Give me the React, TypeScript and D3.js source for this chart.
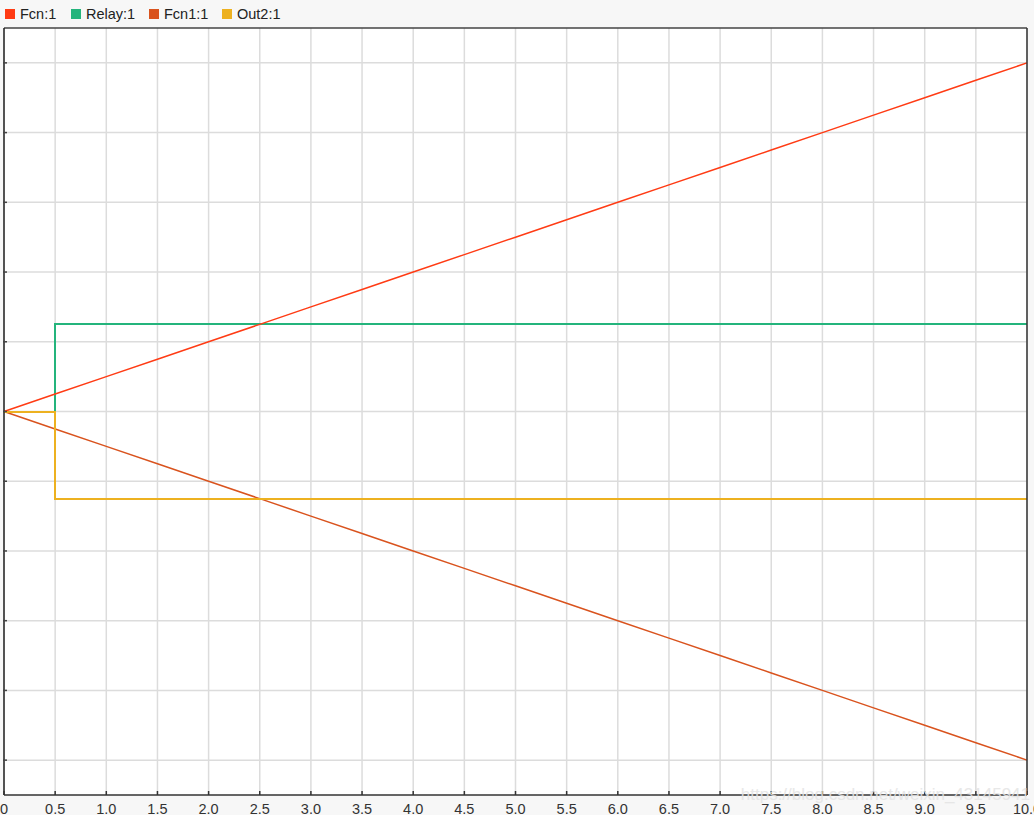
import React from "react";
import * as d3 from "d3";

const times = [0, 0.5, 1, 1.5, 2, 2.5, 3, 3.5, 4, 4.5, 5, 5.5, 6, 6.5, 7, 7.5, 8, 8.5, 9, 9.5, 10];
const fcnValues = [0, 0.25, 0.5, 0.75, 1.0, 1.25, 1.5, 1.75, 2.0, 2.25, 2.5, 2.75, 3.0, 3.25, 3.5, 3.75, 4.0, 4.25, 4.5, 4.75, 5.0];
const fcn1Values = [0, -0.25, -0.5, -0.75, -1.0, -1.25, -1.5, -1.75, -2.0, -2.25, -2.5, -2.75, -3.0, -3.25, -3.5, -3.75, -4.0, -4.25, -4.5, -4.75, -5.0];
const relayTimes = [0, 0.5, 0.5, 10];
const relayValues = [0, 0, 1.25, 1.25];
const out2Times = [0, 0.5, 0.5, 10];
const out2Values = [0, 0, -1.25, -1.25];
const xTicks = [0, 0.5, 1, 1.5, 2, 2.5, 3, 3.5, 4, 4.5, 5, 5.5, 6, 6.5, 7, 7.5, 8, 8.5, 9, 9.5, 10];
const yTicks = [-5, -4, -3, -2, -1, 0, 1, 2, 3, 4, 5];
const legendNames = ["Fcn:1", "Relay:1", "Fcn1:1", "Out2:1"];
const colors = ["#ff3b14", "#24b47c", "#d9531e", "#edb120"];

export default function App() {
  const W = 1034, H = 815;
  const left = 4, right = 1027, top = 28, bottom = 795;
  const x = d3.scaleLinear().domain([0, 10]).range([left, right]);
  const y = d3.scaleLinear().domain([-5.5, 5.5]).range([bottom, top]);
  const line = d3.line<[number, number]>().x(d => x(d[0])).y(d => y(d[1]));
  const series: [number, number][][] = [
    times.map((t, i) => [t, fcnValues[i]] as [number, number]),
    relayTimes.map((t, i) => [t, relayValues[i]] as [number, number]),
    times.map((t, i) => [t, fcn1Values[i]] as [number, number]),
    out2Times.map((t, i) => [t, out2Values[i]] as [number, number]),
  ];
  const drawOrder = [1, 0, 2, 3];
  const crisp = [false, true, false, true];
  const legendX = [5, 71, 149, 222];
  const fmt = (v: number) => (v === 0 ? "0" : v.toFixed(1));
  return (
    <svg width={W} height={H} style={{ position: "absolute", left: 0, top: 0, fontFamily: "Liberation Sans, Arial, sans-serif" }}>
      <rect x={0} y={0} width={W} height={H} fill="#f7f7f7" />
      <rect x={left} y={top} width={right - left} height={bottom - top} fill="#ffffff" />
      {legendNames.map((n, i) => (
        <g key={n}>
          <rect x={legendX[i]} y={9} width={10} height={10} fill={colors[i]} />
          <text x={legendX[i] + 15} y={19} fontSize={14.5} fill="#222">{n}</text>
        </g>
      ))}
      {xTicks.map(t => (
        <line key={"gx" + t} x1={x(t)} x2={x(t)} y1={top} y2={bottom} stroke="#dcdcdc" strokeWidth={1.5} />
      ))}
      {yTicks.map(v => (
        <line key={"gy" + v} x1={left} x2={right} y1={y(v)} y2={y(v)} stroke="#dcdcdc" strokeWidth={1.5} />
      ))}
      {drawOrder.map(i => (
        <path key={i} d={line(series[i]) || ""} fill="none" stroke={colors[i]} strokeWidth={crisp[i] ? 2 : 1.5}
          shapeRendering={crisp[i] ? "crispEdges" : "auto"} />
      ))}
      <line x1={left} x2={right} y1={top} y2={top} stroke="#444" strokeWidth={1.5} />
      <line x1={right} x2={right} y1={top} y2={bottom} stroke="#333" strokeWidth={1.5} />
      <line x1={left} x2={left} y1={top} y2={bottom} stroke="#222" strokeWidth={1.5} />
      <line x1={left} x2={right} y1={bottom} y2={bottom} stroke="#333" strokeWidth={1.5} />
      {yTicks.map(v => (
        <line key={"ty" + v} x1={left - 1} x2={left + 3} y1={y(v)} y2={y(v)} stroke="#444" strokeWidth={1.5} />
      ))}
      {xTicks.map(t => (
        <g key={"tx" + t}>
          <line x1={x(t)} x2={x(t)} y1={bottom} y2={bottom - 4} stroke="#333" strokeWidth={1.5} />
          <text x={x(t)} y={814} textAnchor="middle" fontSize={14.5} fill="#333">{fmt(t)}</text>
        </g>
      ))}
      <text x={1030} y={800} textAnchor="end" fontSize={17} fill="#e4e4e4" opacity={0.85}>https://blog.csdn.net/weixin_43145941</text>
    </svg>
  );
}
